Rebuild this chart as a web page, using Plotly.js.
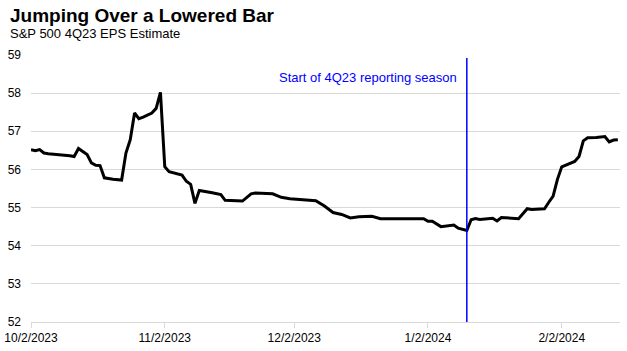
<!DOCTYPE html>
<html>
<head>
<meta charset="utf-8">
<script src="https://cdn.plot.ly/plotly-3.0.1.min.js"></script>
<style>html,body{margin:0;padding:0;background:#fff;}#chart{width:627px;height:351px;}</style>
</head>
<body>
<div id="chart"></div>
<script>
const dates = [
  '2023-10-02','2023-10-03','2023-10-04','2023-10-05','2023-10-06','2023-10-09','2023-10-11','2023-10-12','2023-10-13','2023-10-15',
  '2023-10-16','2023-10-17','2023-10-18','2023-10-19','2023-10-21','2023-10-23','2023-10-24','2023-10-25','2023-10-26','2023-10-27',
  '2023-10-28','2023-10-30','2023-10-31','2023-11-01','2023-11-02','2023-11-03','2023-11-05','2023-11-06','2023-11-07','2023-11-08',
  '2023-11-09','2023-11-10','2023-11-13','2023-11-15','2023-11-16','2023-11-20','2023-11-22','2023-11-23','2023-11-27','2023-11-29',
  '2023-12-01','2023-12-04','2023-12-07','2023-12-09','2023-12-11','2023-12-13','2023-12-15','2023-12-17','2023-12-20','2023-12-22',
  '2024-01-01','2024-01-02','2024-01-03','2024-01-05','2024-01-08','2024-01-09','2024-01-10','2024-01-11','2024-01-12','2024-01-13',
  '2024-01-14','2024-01-17','2024-01-18','2024-01-19','2024-01-23','2024-01-25','2024-01-26','2024-01-29','2024-01-30','2024-01-31',
  '2024-02-01','2024-02-02','2024-02-05','2024-02-06','2024-02-07','2024-02-08','2024-02-10','2024-02-12','2024-02-13','2024-02-14',
  '2024-02-15'
];
const epsEstimate = [
  56.52,56.49,56.52,56.43,56.41,56.39,56.36,56.34,56.55,56.39,
  56.17,56.11,56.10,55.78,55.74,55.72,56.43,56.78,57.48,57.33,
  57.37,57.48,57.60,58.02,56.07,55.94,55.89,55.85,55.69,55.61,
  55.11,55.45,55.39,55.34,55.19,55.17,55.36,55.38,55.36,55.27,
  55.23,55.20,55.18,55.04,54.87,54.82,54.73,54.76,54.77,54.71,
  54.71,54.64,54.64,54.50,54.54,54.46,54.43,54.40,54.68,54.71,
  54.69,54.72,54.65,54.74,54.71,54.97,54.95,54.97,55.14,55.30,
  55.74,56.07,56.21,56.34,56.75,56.83,56.84,56.86,56.72,56.77,
  56.78
];
const tickDates = ['2023-10-02','2023-11-02','2023-12-02','2024-01-02','2024-02-02'];
const tickLabels = ['10/2/2023','11/2/2023','12/2/2023','1/2/2024','2/2/2024'];
const yTicks = [52,53,54,55,56,57,58,59];
const seasonStart = '2024-01-11';
const seasonLabel = 'Start of 4Q23 reporting season';
const titleText = 'Jumping Over a Lowered Bar';
const subtitleText = 'S&amp;P 500 4Q23 EPS Estimate';

const font = 'Liberation Sans, Arial, sans-serif';
const trace = {
  x: dates, y: epsEstimate, type: 'scatter', mode: 'lines',
  line: {color: '#000000', width: 3}, hoverinfo: 'skip'
};
const layout = {
  width: 627, height: 351,
  margin: {l: 31, r: 7, t: 55, b: 29},
  paper_bgcolor: '#ffffff', plot_bgcolor: '#ffffff',
  showlegend: false,
  font: {family: font, size: 12, color: '#000000'},
  xaxis: {
    type: 'date', range: ['2023-10-02', '2024-02-15 12:00'],
    tickvals: tickDates, ticktext: tickLabels,
    showgrid: false, zeroline: false,
    showline: true, linecolor: '#d9d9d9', linewidth: 1,
    ticks: 'outside', ticklen: 5, tickcolor: '#d9d9d9',
    tickfont: {family: font, size: 12, color: '#000000'}
  },
  yaxis: {
    range: [52, 59], tickvals: yTicks,
    showgrid: true, gridcolor: '#d9d9d9', gridwidth: 1,
    zeroline: false, showline: false, ticks: '',
    ticklabelstandoff: 9,
    tickfont: {family: font, size: 12, color: '#000000'}
  },
  shapes: [{
    type: 'line', xref: 'x', yref: 'y',
    x0: seasonStart, x1: seasonStart, y0: 52, y1: 58.92,
    line: {color: '#0000ff', width: 1.5}
  }],
  annotations: [
    {text: '<b>' + titleText + '</b>', xref: 'paper', yref: 'paper',
     x: -23/589, y: 1 + 40/267, xanchor: 'left', yanchor: 'middle', showarrow: false,
     font: {family: font, size: 19, color: '#000000'}},
    {text: subtitleText, xref: 'paper', yref: 'paper',
     x: -23/589, y: 1 + 22/267, xanchor: 'left', yanchor: 'middle', showarrow: false,
     font: {family: font, size: 13, color: '#000000'}},
    {text: seasonLabel, xref: 'x', yref: 'y', x: seasonStart, y: 58.4,
     xanchor: 'right', yanchor: 'middle', xshift: -8, showarrow: false,
     font: {family: font, size: 13, color: '#0000ff'}}
  ]
};
Plotly.newPlot('chart', [trace], layout, {displayModeBar: false, staticPlot: true});
</script>
</body>
</html>
